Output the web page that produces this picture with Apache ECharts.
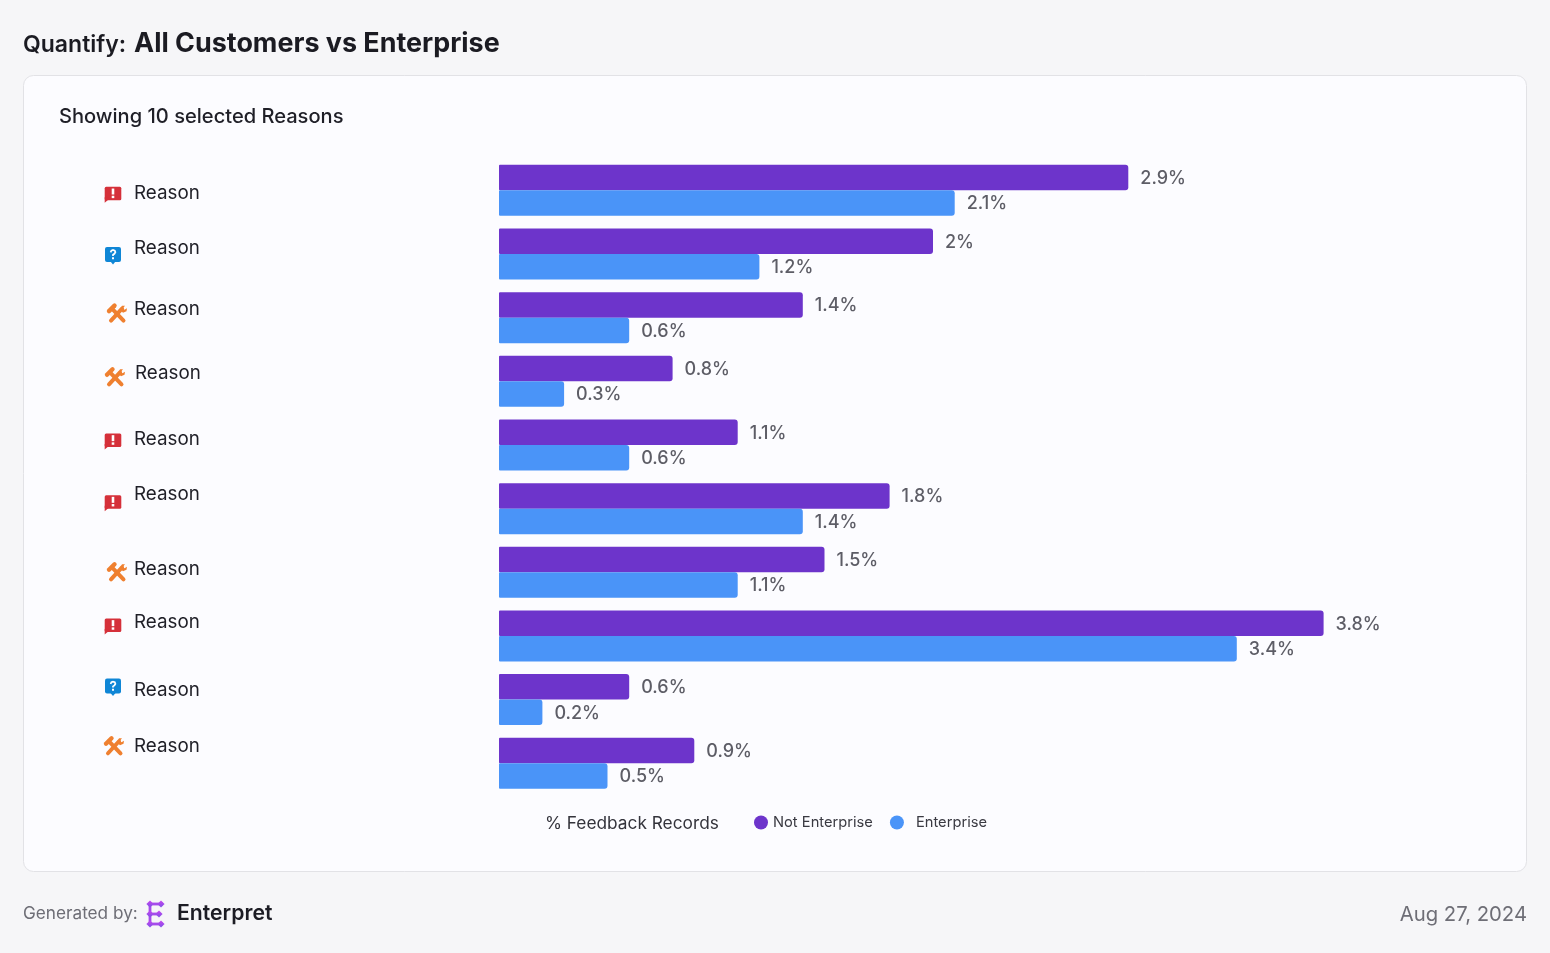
<!DOCTYPE html>
<html>
<head>
<meta charset="utf-8">
<title>Quantify: All Customers vs Enterprise</title>
<script src="https://cdn.jsdelivr.net/npm/echarts@6/dist/echarts.min.js"></script>
<style>
  html, body { margin: 0; padding: 0; background: #f6f6f8; }
  #chart { width: 1550px; height: 953px; }
</style>
</head>
<body>
<div id="chart"></div>
<script>
var reasons = ['Reason', 'Reason', 'Reason', 'Reason', 'Reason', 'Reason', 'Reason', 'Reason', 'Reason', 'Reason'];
var reasonTypes = ['alert', 'question', 'tools', 'tools', 'alert', 'alert', 'tools', 'alert', 'question', 'tools'];
var notEnterprise = [2.9, 2, 1.4, 0.8, 1.1, 1.8, 1.5, 3.8, 0.6, 0.9];
var enterprise = [2.1, 1.2, 0.6, 0.3, 0.6, 1.4, 1.1, 3.4, 0.2, 0.5];

var FONT = 'Inter, "Noto Sans", sans-serif';
var PURPLE = '#6d34cb';
var BLUE = '#4a94f8';

// row label / icon nudges relative to the middle of each band (the source is uneven)
var labelNudge = [
  [134, 3.5], [134, -5.5], [134, -8], [135, -7.5], [134, -5.5],
  [134, -14], [134, -2.5], [134, -13.5], [134, -9], [134, -16.5]
];
var iconNudge = [
  [113, 4], [113, 1], [117, -4], [115, -4], [113, -4],
  [113, -6], [117, 0], [113, -10], [113, -13], [114, -17]
];

var chart = echarts.init(document.getElementById('chart'));

function barSeries(name, data, color) {
  return {
    name: name,
    type: 'bar',
    data: data,
    barWidth: 25.5,
    barGap: 0,
    itemStyle: { color: color, borderRadius: [1, 3, 3, 1] },
    label: {
      show: true,
      position: 'right',
      distance: 12,
      offset: [0, 1],
      fontFamily: FONT,
      fontSize: 18,
      fontWeight: 500,
      color: '#5d5d66',
      formatter: function (p) { return p.value + '%'; }
    }
  };
}

chart.setOption({
  animation: false,
  backgroundColor: '#f6f6f8',
  title: {
    left: 23,
    top: 30,
    padding: 0,
    text: '{a|Quantify:} {b|All Customers vs Enterprise}',
    textStyle: {
      rich: {
        a: { fontFamily: FONT, fontSize: 23, fontWeight: 600, color: '#1b1b22', padding: [4, 0, 0, 0] },
        b: { fontFamily: FONT, fontSize: 26.9, fontWeight: 700, color: '#1b1b22', padding: [0, 0, 0, 3] }
      }
    }
  },
  legend: {
    left: 754,
    top: 815,
    padding: 0,
    itemWidth: 14,
    itemHeight: 14,
    itemGap: 17,
    icon: 'circle',
    textStyle: { fontFamily: FONT, fontSize: 14.7, color: '#3a3a42' },
    data: [
      { name: 'Not Enterprise' },
      { name: 'Enterprise', textStyle: { padding: [0, 0, 0, 7] } }
    ]
  },
  grid: { left: 499, top: 158.5, width: 868, height: 636.6 },
  xAxis: { type: 'value', min: 0, max: 4, show: false },
  yAxis: {
    type: 'category',
    inverse: true,
    data: reasons,
    axisLine: { show: false },
    axisTick: { show: false },
    axisLabel: { show: false }
  },
  series: [
    barSeries('Not Enterprise', notEnterprise, PURPLE),
    barSeries('Enterprise', enterprise, BLUE)
  ]
});

function iconShapes(type) {
  if (type === 'alert') {
    return [
      { type: 'rect', shape: { x: -8.3, y: -7.5, width: 16.6, height: 13.5, r: 1.5 }, style: { fill: '#d5303a' } },
      { type: 'polygon', shape: { points: [[-8.3, 3], [-8.3, 8.5], [-3, 4]] }, style: { fill: '#d5303a' } },
      { type: 'rect', shape: { x: -1.3, y: -5.8, width: 2.6, height: 6 }, style: { fill: '#fff' } },
      { type: 'rect', shape: { x: -1.3, y: 1.4, width: 2.6, height: 2.4 }, style: { fill: '#fff' } }
    ];
  }
  if (type === 'question') {
    return [
      { type: 'rect', shape: { x: -8, y: -8, width: 16, height: 15, r: 2 }, style: { fill: '#0f86d6' } },
      { type: 'polygon', shape: { points: [[-2.5, 6.5], [2.5, 6.5], [0, 9.5]] }, style: { fill: '#0f86d6' } },
      { type: 'polyline', shape: { points: [[-2.4, -2.6], [-1.6, -4.4], [0, -5], [1.8, -4.4], [2.4, -2.8], [1.4, -1.2], [0, -0.2], [0, 1]] }, style: { stroke: '#fff', lineWidth: 1.7, fill: 'none' } },
      { type: 'rect', shape: { x: -1, y: 2.2, width: 2, height: 2 }, style: { fill: '#fff' } }
    ];
  }
  return [
    { type: 'line', shape: { x1: -6, y1: 7, x2: 5, y2: -5 }, style: { stroke: '#ef8030', lineWidth: 4, lineCap: 'round' } },
    { type: 'line', shape: { x1: 6.5, y1: 7, x2: -5, y2: -5 }, style: { stroke: '#ef8030', lineWidth: 4, lineCap: 'round' } },
    { type: 'line', shape: { x1: -8, y1: -2.5, x2: -2.5, y2: -8 }, style: { stroke: '#ef8030', lineWidth: 4.4, lineCap: 'round' } },
    { type: 'polygon', shape: { points: [[3, -4], [5, -8], [8, -8], [6, -5.5], [7.5, -4], [10, -5.5], [9.5, -2.5], [6, -1]] }, style: { fill: '#ef8030' } }
  ];
}

function logoShapes() {
  var grad = new echarts.graphic.LinearGradient(0, 0, 0, 1, [
    { offset: 0, color: '#c844f0' },
    { offset: 1, color: '#7d52e6' }
  ]);
  var out = [];
  [[0, 0, 13, 0], [0, 0, 0, 20], [0, 10, 10, 10], [0, 20, 13, 20]].forEach(function (s) {
    out.push({ type: 'line', shape: { x1: s[0], y1: s[1], x2: s[2], y2: s[3] }, style: { stroke: '#a64bea', lineWidth: 2.8 } });
  });
  [[0, 0], [11, 0], [0, 10], [9, 10], [0, 20], [11, 20]].forEach(function (p) {
    out.push({ type: 'polygon', shape: { points: [[p[0] - 3.6, p[1]], [p[0], p[1] - 3.6], [p[0] + 3.6, p[1]], [p[0], p[1] + 3.6]] }, style: { fill: grad } });
  });
  return out;
}

function label(x, y, text, size, weight, color, align) {
  return {
    type: 'text',
    x: x,
    y: y,
    style: {
      text: text,
      fontFamily: FONT,
      fontSize: size,
      fontWeight: weight,
      fill: color,
      align: align || 'left',
      verticalAlign: 'middle'
    }
  };
}

var elements = [
  {
    type: 'rect',
    z: -1,
    shape: { x: 23.5, y: 75.5, width: 1503, height: 796, r: 10 },
    style: { fill: '#fcfcff', stroke: '#e2e2e6', lineWidth: 1 }
  },
  label(59, 117, 'Showing 10 selected Reasons', 20.1, 500, '#1f1f27'),
  label(545, 824, '% Feedback Records', 17.3, 400, '#33333b'),
  label(23, 914, 'Generated by:', 17.2, 400, '#6e6e76'),
  label(177, 914, 'Enterpret', 21.2, 600, '#1c1c24'),
  label(1527, 915, 'Aug 27, 2024', 20.3, 400, '#6e6e76', 'right'),
  { type: 'group', x: 150, y: 904, children: logoShapes() }
];

reasons.forEach(function (name, i) {
  var mid = chart.convertToPixel({ yAxisIndex: 0 }, i);
  elements.push(label(labelNudge[i][0], mid + labelNudge[i][1], name, 18.8, 400, '#1f1f27'));
  elements.push({ type: 'group', x: iconNudge[i][0], y: mid + iconNudge[i][1], children: iconShapes(reasonTypes[i]) });
});

chart.setOption({ graphic: { elements: elements } });
</script>
</body>
</html>
